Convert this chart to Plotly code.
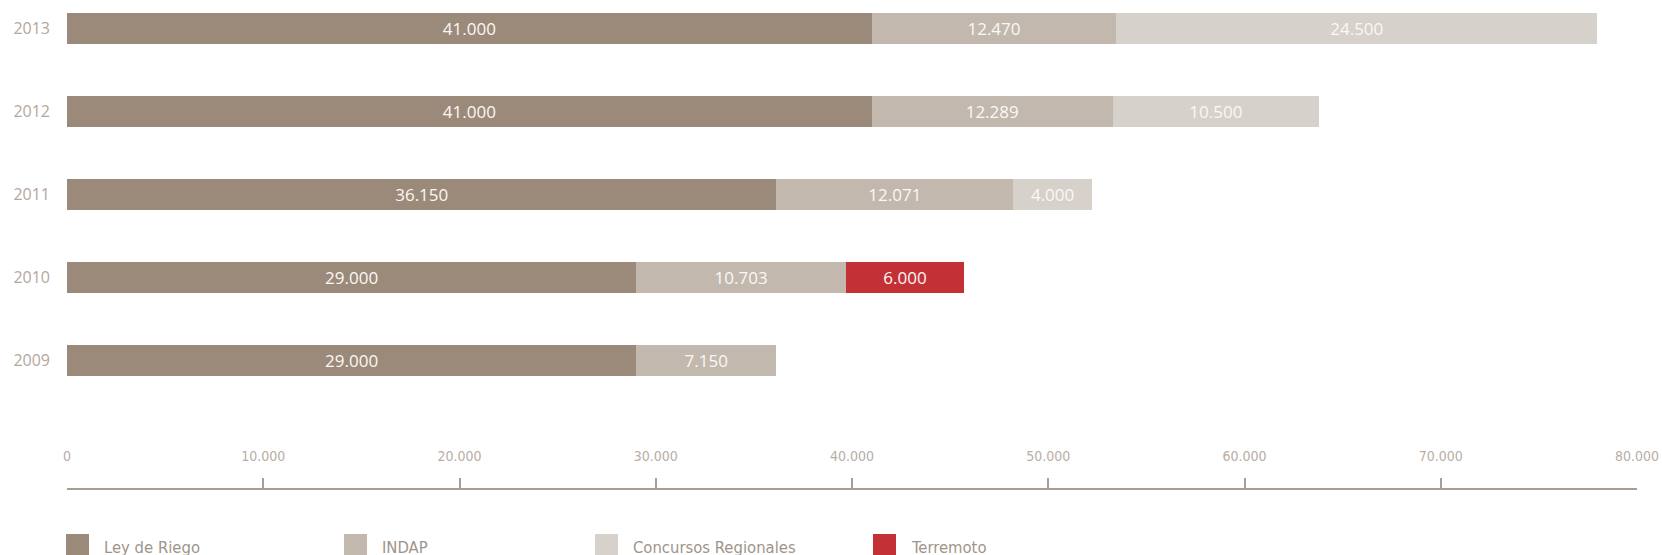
import plotly.graph_objects as go

# ---- data ----
years = ["2009", "2010", "2011", "2012", "2013"]
ley_de_riego = [29000, 29000, 36150, 41000, 41000]
indap = [7150, 10703, 12071, 12289, 12470]
concursos_regionales = [None, None, 4000, 10500, 24500]
terremoto = [None, 6000, None, None, None]

series_names = ["Ley de Riego", "INDAP", "Concursos Regionales", "Terremoto"]
series_values = [ley_de_riego, indap, concursos_regionales, terremoto]
series_colors = ["#9b8a7a", "#c2b8ae", "#d6d1cb", "#c33036"]

x_ticks = [0, 10000, 20000, 30000, 40000, 50000, 60000, 70000, 80000]

# ---- styling ----
W, H = 1662, 555
ML, MR, MT, MB = 67, 25, 0, 67
plot_h = H - MT - MB  # 488

cond_font = "DejaVu Sans Condensed, Liberation Sans Narrow, Roboto"

fig = go.Figure()
for name, vals, col in zip(series_names, series_values, series_colors):
    fig.add_trace(go.Bar(
        y=years, x=vals, name=name, orientation="h",
        marker=dict(color=col, line=dict(width=0)),
        width=0.373,
        texttemplate="%{x:,}", textposition="inside",
        insidetextanchor="middle", textangle=0,
        constraintext="none",
        textfont=dict(family="Open Sans", size=17, color="#fbf8f5"),
        showlegend=False, hoverinfo="skip",
    ))

# invisible trace to carry the tick-label axis
fig.add_trace(go.Scatter(x=[0, 80000], y=[None, None], xaxis="x2", yaxis="y",
                         mode="markers", showlegend=False, hoverinfo="skip"))

axis_col = "#a99e93"
fig.update_layout(
    width=W, height=H,
    margin=dict(l=ML, r=MR, t=MT, b=MB, pad=0),
    barmode="stack",
    separators=",.",
    paper_bgcolor="white", plot_bgcolor="white",
    xaxis=dict(
        range=[0, 80000], tickvals=x_ticks,
        showgrid=False, zeroline=False,
        showline=True, linecolor=axis_col, linewidth=2,
        ticks="inside", ticklen=10, tickwidth=2, tickcolor=axis_col,
        showticklabels=False,
        fixedrange=True,
    ),
    xaxis2=dict(
        overlaying="x", matches="x", anchor="free", side="bottom",
        position=(plot_h - 446) / plot_h,
        range=[0, 80000], tickvals=x_ticks, tickformat=",",
        showgrid=False, zeroline=False, showline=False, ticks="",
        tickfont=dict(family=cond_font, size=14, color="#b8aea5"),
        fixedrange=True,
    ),
    yaxis=dict(
        type="category", categoryorder="array", categoryarray=years,
        range=[-1.535, 4.339],
        showgrid=False, zeroline=False, showline=False, ticks="",
        ticklabelstandoff=16,
        tickfont=dict(family="Open Sans", size=16, color="#b3a89e"),
        fixedrange=True,
    ),
)

# ---- custom legend (large square swatches) ----
legend_px = [66, 344, 595, 873]  # pixel positions of swatches
for name, col, px in zip(series_names, series_colors, legend_px):
    fig.add_shape(
        type="rect", xref="paper", yref="paper",
        xsizemode="pixel", ysizemode="pixel",
        xanchor=0, yanchor=0,
        x0=px - ML, x1=px - ML + 23,
        y0=-(534 - plot_h), y1=-(560 - plot_h),
        fillcolor=col, line=dict(width=0), layer="above",
    )
    fig.add_annotation(
        xref="paper", yref="paper", x=0, y=0,
        xshift=px - ML + 36, yshift=-(547 - plot_h),
        xanchor="left", yanchor="middle",
        text=name, showarrow=False,
        font=dict(family=cond_font, size=16.5, color="#a0948a"),
    )

fig.write_html("out.html",
               config={"displayModeBar": False, "staticPlot": True},
               post_script="document.body.style.margin='0';document.body.style.overflow='hidden';")
